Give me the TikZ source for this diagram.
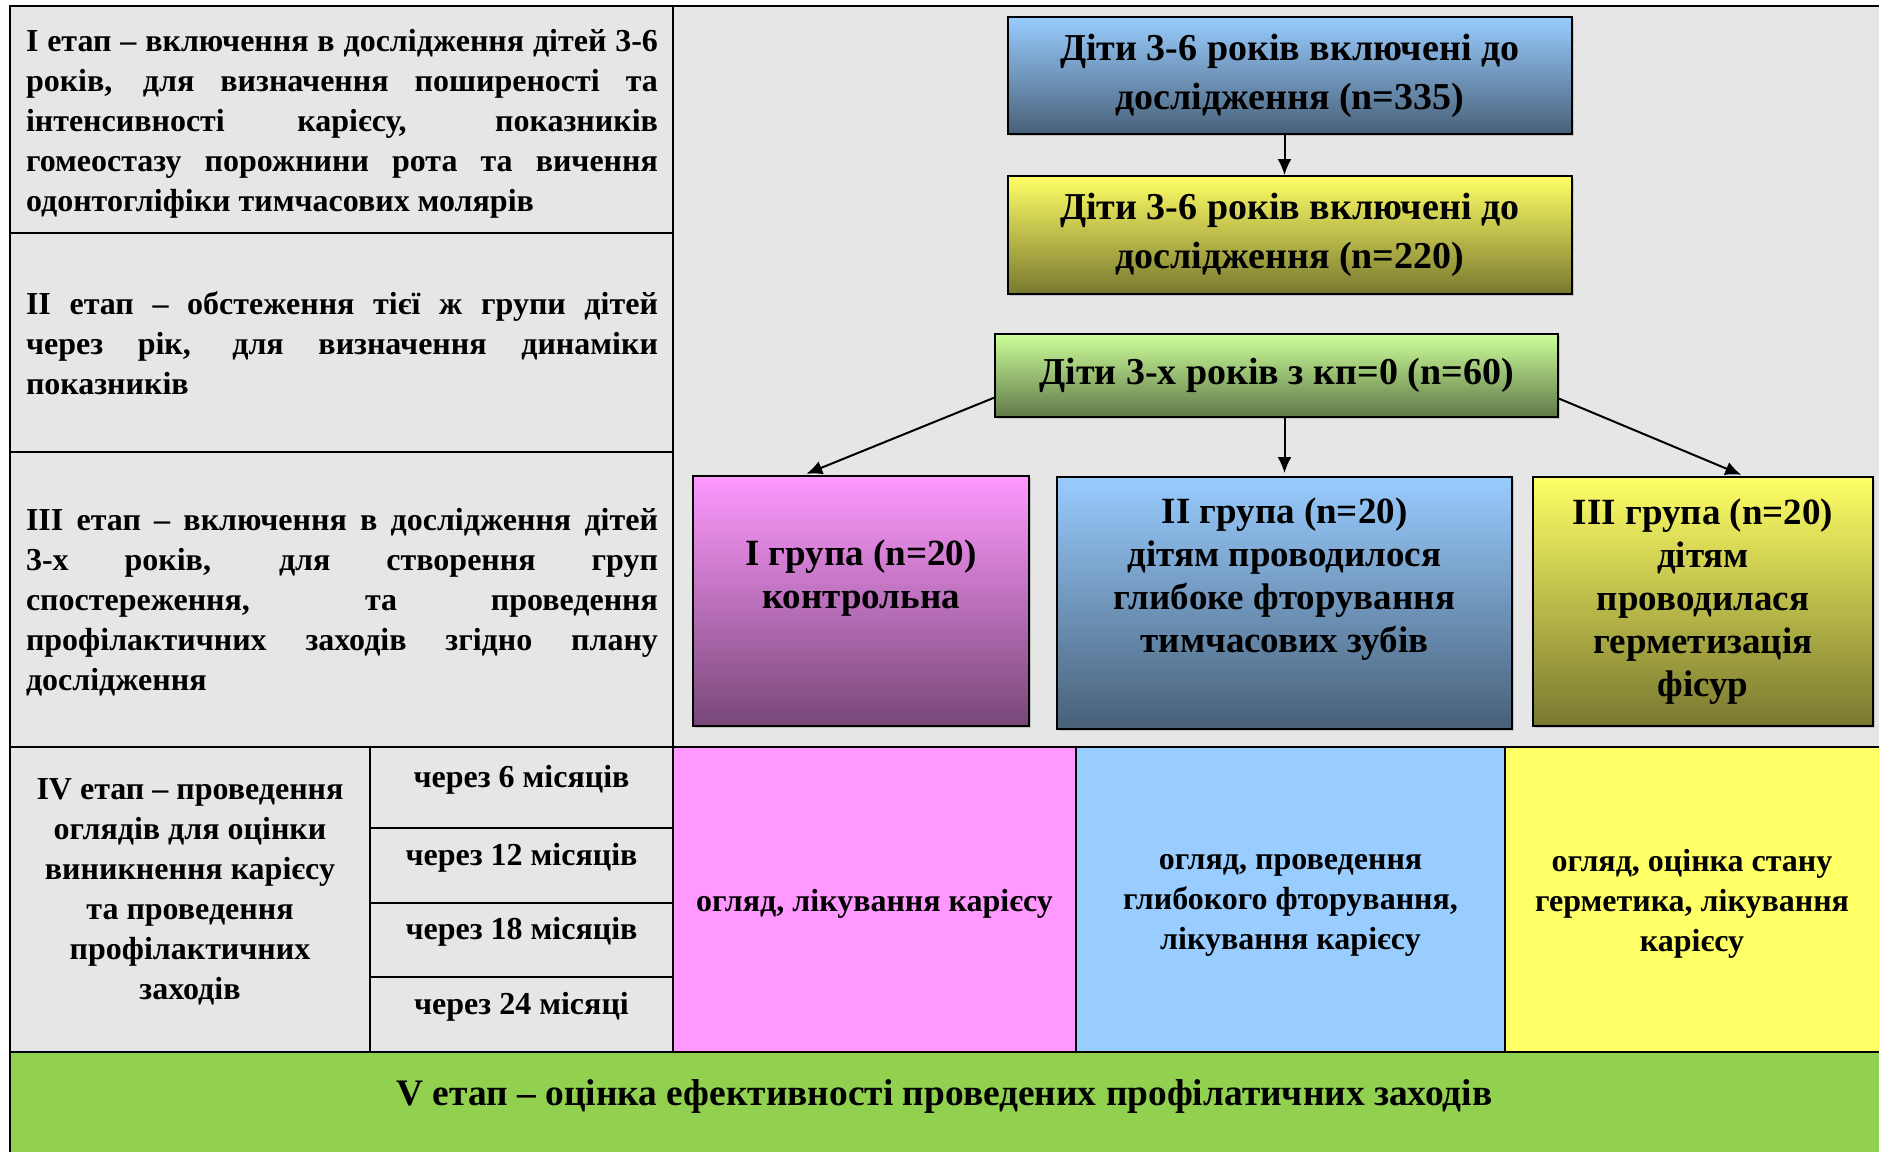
\documentclass[tikz,border=0pt]{standalone}
\usepackage{fontspec}
\setmainfont{Liberation Serif}
\usetikzlibrary{positioning,arrows.meta,calc,shadows}
\definecolor{tblgray}{HTML}{E6E6E6}
\definecolor{pinkcol}{HTML}{FF99FF}
\definecolor{bluecol}{HTML}{99CCFF}
\definecolor{yelcol}{HTML}{FFFF66}
\definecolor{limecol}{HTML}{CCFF99}
\definecolor{greencol}{HTML}{92D050}
\setlength{\parindent}{0pt}
\hyphenpenalty=10000
\exhyphenpenalty=10000
\tolerance=10000

\begin{document}
\begin{tikzpicture}[x=0.5pt,y=-0.5pt,
   font=\bfseries\fontsize{16}{20}\selectfont,
   tline/.style={line width=1.2pt},
   cline/.style={line width=0.6pt},
   stage/.style={text width=316pt,align=justify,inner sep=0pt},
   ctext/.style={align=center,inner sep=0pt},
   flowbox/.style={draw,line width=1pt,top color=#1,bottom color=#1!47!black,
              align=center,inner sep=0pt,
              font=\bfseries\fontsize{19}{24.5}\selectfont,
              drop shadow={shadow xshift=1pt,shadow yshift=-1pt,fill=black!35}},
   grpbox/.style={flowbox=#1,font=\bfseries\fontsize{18.5}{21.5}\selectfont},
   arr/.style={-{Latex[length=8pt,width=7pt]},line width=1pt},
]
\clip (0,0) rectangle (1879,1151);

% table background
\fill[tblgray]  (10,6) rectangle (1890,746.7);
\fill[tblgray]  (10,746.7) rectangle (673,1051.7);
\fill[pinkcol]  (673,746.7) rectangle (1076,1051.7);
\fill[bluecol]  (1076,746.7) rectangle (1505,1051.7);
\fill[yelcol]   (1505,746.7) rectangle (1890,1051.7);
\fill[greencol] (10,1051.7) rectangle (1890,1160);

% table rules
\draw[tline] (1890,6) -- (10,6) -- (10,1160);
\draw[tline] (673,6) -- (673,1051.7);
\draw[tline] (10,233) -- (673,233) (10,452) -- (673,452);
\draw[tline] (10,746.7) -- (1890,746.7) (10,1051.7) -- (1890,1051.7);
\draw[tline] (370,746.7) -- (370,1051.7);
\foreach \y in {828,903,977} \draw[tline] (370,\y) -- (673,\y);
\draw[cline] (1076,746.7) -- (1076,1051.7) (1505,746.7) -- (1505,1051.7);

% stages, left column
\node[stage] (st1) at (342,123.5) {I етап – включення в дослідження дітей 3-6\linebreak
  років, для визначення поширеності та\linebreak інтенсивності карієсу, показників\linebreak
  гомеостазу порожнини рота та вичення\linebreak одонтогліфіки тимчасових молярів};
\node[stage] (st2) at (342,343) {II етап – обстеження тієї ж групи дітей\linebreak
  через рік, для визначення динаміки\linebreak показників};
\node[stage] (st3) at (342,602.5) {III етап – включення в дослідження дітей\linebreak
  3-х років, для створення груп\linebreak спостереження, та проведення\linebreak
  профілактичних заходів згідно плану\linebreak дослідження};
\node[ctext] (st4) at (190,892) {IV етап – проведення\\оглядів для оцінки\\виникнення карієсу\\та проведення\\профілактичних\\заходів};

% follow-up terms
\node[ctext] (m6)  at (521.5,780)  {через 6 місяців};
\node[ctext] (m12) at (521.5,858)  {через 12 місяців};
\node[ctext] (m18) at (521.5,932)  {через 18 місяців};
\node[ctext] (m24) at (521.5,1007) {через 24 місяці};

% actions per group
\node[ctext] (act1) at (874.5,904)  {огляд, лікування карієсу};
\node[ctext] (act2) at (1290.5,905) {огляд, проведення\\глибокого фторування,\\лікування карієсу};
\node[ctext] (act3) at (1692,904)   {огляд, оцінка стану\\герметика, лікування\\карієсу};
\node[ctext,font=\bfseries\fontsize{18.7}{22}\selectfont] (st5) at (944.5,1096)
  {V етап – оцінка ефективності проведених профілатичних заходів};

% flow boxes
\node[flowbox=bluecol,minimum width=281.75pt,minimum height=58.8pt] (dt1) at (1289.75,75.5)
  {Діти 3-6 років включені до\\дослідження (n=335)};
\node[flowbox=yelcol,minimum width=281.75pt,minimum height=59pt,below=19.85pt of dt1] (dt2)
  {Діти 3-6 років включені до\\дослідження (n=220)};
\node[flowbox=limecol,minimum width=281.5pt,minimum height=41.6pt] (dt3) at (1276.5,375.6)
  {Діти 3-х років з кп=0 (n=60)\\[-20pt]~};

% groups
\node[grpbox=pinkcol,minimum width=168pt,minimum height=125pt] (grp1) at (861,601)
  {I група (n=20)\\контрольна\\[5pt]~};
\node[grpbox=bluecol,minimum width=227.5pt,minimum height=125.8pt] (grp2) at (1284.5,602.8)
  {II група (n=20)\\дітям проводилося\\глибоке фторування\\тимчасових зубів\\[6pt]~};
\node[grpbox=yelcol,minimum width=170pt,minimum height=124.5pt] (grp3) at (1703,601.5)
  {III група (n=20)\\дітям\\проводилася\\герметизація\\фісур};

% arrows
\draw[arr] (dt1.south -| grp2.north) -- (dt2.north -| grp2.north);
\draw[arr,shorten >=1.5pt] (dt3.south -| grp2.north) -- (grp2.north);
\draw[arr,shorten >=1.5pt] ($(dt3.south west)!0.24!(dt3.north west)$)
  -- ($(grp1.north west)!0.33!(grp1.north east)$);
\draw[arr,shorten >=1.5pt] ($(dt3.south east)!0.23!(dt3.north east)$)
  -- ($(grp3.north west)!0.62!(grp3.north east)$);
\end{tikzpicture}
\end{document}
